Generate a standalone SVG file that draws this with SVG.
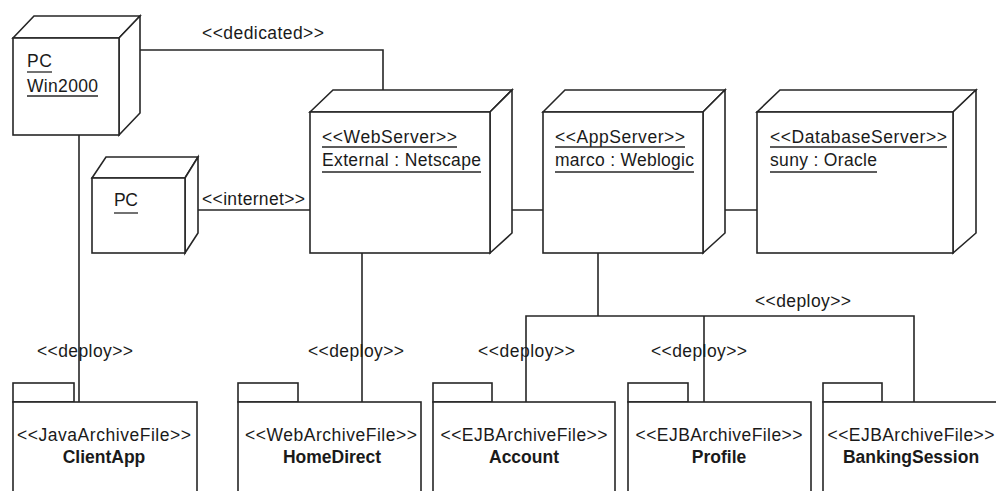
<svg xmlns="http://www.w3.org/2000/svg" width="996" height="491" viewBox="0 0 996 491">
<style>
.s{fill:#fff;stroke:#262626;stroke-width:1.6;stroke-linejoin:miter}
.l{fill:none;stroke:#262626;stroke-width:1.6}
.u{stroke:#262626;stroke-width:1.3}
text{font-family:"Liberation Sans",Arial,Helvetica,sans-serif;font-size:17.5px;fill:#1a1a1a}
.b{font-weight:bold}
.m{text-anchor:middle}
</style>
<rect width="996" height="491" fill="#fff"/>
<g id="connectors">
<polyline class="l" points="133,50 383,50 383,100"/>
<line class="l" x1="188" y1="210" x2="310" y2="210"/>
<line class="l" x1="502" y1="210" x2="543" y2="210"/>
<line class="l" x1="715" y1="210" x2="757" y2="210"/>
<line class="l" x1="79" y1="135" x2="79" y2="402"/>
<line class="l" x1="362" y1="253" x2="362" y2="402"/>
<line class="l" x1="598" y1="253" x2="598" y2="316"/>
<polyline class="l" points="526,402 526,316 914,316 914,402"/>
<line class="l" x1="704" y1="316" x2="704" y2="402"/>
<text x="202" y="39" textLength="122">&lt;&lt;dedicated&gt;&gt;</text>
<text x="202" y="205" textLength="103">&lt;&lt;internet&gt;&gt;</text>
<text x="37" y="357" textLength="96">&lt;&lt;deploy&gt;&gt;</text>
<text x="308" y="357" textLength="96">&lt;&lt;deploy&gt;&gt;</text>
<text x="478" y="357" textLength="97">&lt;&lt;deploy&gt;&gt;</text>
<text x="651" y="357" textLength="96">&lt;&lt;deploy&gt;&gt;</text>
<text x="755" y="307" textLength="96">&lt;&lt;deploy&gt;&gt;</text>
</g>
<g id="pc-win2000">
<polygon class="s" points="13,38 34,16 140,16 119,38"/>
<polygon class="s" points="119,38 140,16 140,113 119,135"/>
<rect class="s" x="13" y="38" width="106" height="97"/>
<text x="27" y="67" textLength="25">PC</text>
<line class="u" x1="27" y1="72" x2="52" y2="72"/>
<text x="27" y="92" textLength="71">Win2000</text>
<line class="u" x1="27" y1="96" x2="98" y2="96"/>
</g>
<g id="pc">
<polygon class="s" points="92,178 106,157 198,157 185,178"/>
<polygon class="s" points="185,178 198,157 198,233 185,253"/>
<rect class="s" x="92" y="178" width="93" height="75"/>
<text x="114" y="206" textLength="24">PC</text>
<line class="u" x1="114" y1="213" x2="138" y2="213"/>
</g>
<g id="webserver">
<polygon class="s" points="310,112 333,90 512,90 490,112"/>
<polygon class="s" points="490,112 512,90 512,233 490,253"/>
<rect class="s" x="310" y="112" width="180" height="141"/>
<text x="322" y="143" textLength="135">&lt;&lt;WebServer&gt;&gt;</text>
<line class="u" x1="322" y1="147" x2="457" y2="147"/>
<text x="322" y="166" textLength="159">External : Netscape</text>
<line class="u" x1="322" y1="172" x2="481" y2="172"/>
</g>
<g id="appserver">
<polygon class="s" points="543,112 565,90 725,90 703,112"/>
<polygon class="s" points="703,112 725,90 725,233 703,253"/>
<rect class="s" x="543" y="112" width="160" height="141"/>
<text x="555" y="143" textLength="130">&lt;&lt;AppServer&gt;&gt;</text>
<line class="u" x1="555" y1="147" x2="685" y2="147"/>
<text x="555" y="166" textLength="139">marco : Weblogic</text>
<line class="u" x1="555" y1="172" x2="694" y2="172"/>
</g>
<g id="dbserver">
<polygon class="s" points="757,112 780,90 976,90 953,112"/>
<polygon class="s" points="953,112 976,90 976,233 953,253"/>
<rect class="s" x="757" y="112" width="196" height="141"/>
<text x="770" y="143" textLength="177">&lt;&lt;DatabaseServer&gt;&gt;</text>
<line class="u" x1="770" y1="147" x2="947" y2="147"/>
<text x="770" y="166" textLength="107">suny : Oracle</text>
<line class="u" x1="770" y1="172" x2="877" y2="172"/>
</g>
<g id="clientapp">
<rect class="s" x="13" y="383" width="61" height="19"/>
<rect class="s" x="13" y="402" width="184" height="100"/>
<text class="m" x="104" y="441" textLength="174">&lt;&lt;JavaArchiveFile&gt;&gt;</text>
<text class="m b" x="104" y="463">ClientApp</text>
</g>
<g id="homedirect">
<rect class="s" x="238" y="383" width="60" height="19"/>
<rect class="s" x="238" y="402" width="183" height="100"/>
<text class="m" x="331" y="441" textLength="172">&lt;&lt;WebArchiveFile&gt;&gt;</text>
<text class="m b" x="332" y="463">HomeDirect</text>
</g>
<g id="account">
<rect class="s" x="433" y="383" width="59" height="19"/>
<rect class="s" x="433" y="402" width="182" height="100"/>
<text class="m" x="524" y="441" textLength="167">&lt;&lt;EJBArchiveFile&gt;&gt;</text>
<text class="m b" x="524" y="463">Account</text>
</g>
<g id="profile">
<rect class="s" x="628" y="383" width="60" height="19"/>
<rect class="s" x="628" y="402" width="183" height="100"/>
<text class="m" x="719" y="441" textLength="167">&lt;&lt;EJBArchiveFile&gt;&gt;</text>
<text class="m b" x="719" y="463">Profile</text>
</g>
<g id="bankingsession">
<rect class="s" x="823" y="383" width="59" height="19"/>
<rect class="s" x="823" y="402" width="180" height="100"/>
<text class="m" x="911" y="441" textLength="167">&lt;&lt;EJBArchiveFile&gt;&gt;</text>
<text class="m b" x="911" y="463">BankingSession</text>
</g>
</svg>
